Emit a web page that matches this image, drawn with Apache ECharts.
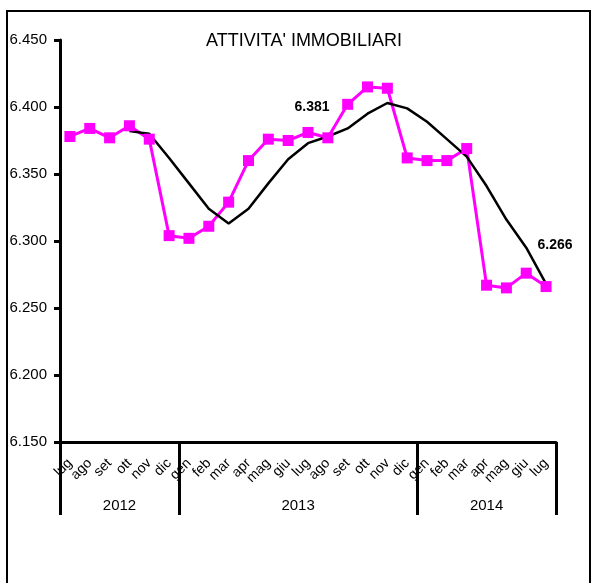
<!DOCTYPE html>
<html>
<head>
<meta charset="utf-8">
<script src="https://cdn.jsdelivr.net/npm/echarts@6/dist/echarts.min.js"></script>
<style>
html,body{margin:0;padding:0;background:#fff;}
#c{width:592px;height:583px;}
</style>
</head>
<body>
<div id="c"></div>
<script>
const months = ['lug','ago','set','ott','nov','dic','gen','feb','mar','apr','mag','giu','lug','ago','set','ott','nov','dic','gen','feb','mar','apr','mag','giu','lug'];
const values = [6.378,6.384,6.377,6.386,6.376,6.304,6.302,6.311,6.329,6.360,6.376,6.375,6.381,6.377,6.402,6.415,6.414,6.362,6.360,6.360,6.369,6.267,6.265,6.276,6.266];
const trend = [null,null,null,6.382,6.380,6.362,6.343,6.324,6.313,6.324,6.343,6.361,6.373,6.378,6.384,6.395,6.403,6.399,6.389,6.376,6.363,6.341,6.316,6.295,6.268];
const years = ['2012','2013','2014'];
const yearBounds = [0,6,18,25];
const yearCenters = [3,12,21.5];
const labelled = {12:[4,-25], 24:[9,-41]};
const yTicks = ['6.150','6.200','6.250','6.300','6.350','6.400','6.450'];

const FONT = '"Liberation Sans", Arial, sans-serif';
const chart = echarts.init(document.getElementById('c'), null, {renderer:'canvas'});

const magentaData = values.map((v,i)=> labelled[i] ? {
  value: v,
  label: {show:true, position:'inside', offset: labelled[i], formatter: p=>p.value.toFixed(3),
    color:'#000', fontWeight:'bold', fontSize:14, fontFamily:FONT}
} : v);

chart.setOption({
  animation:false,
  backgroundColor:'#fff',
  title:{text:"ATTIVITA' IMMOBILIARI", left:299, top:27, textAlign:'center',
    textStyle:{fontFamily:FONT, fontSize:18, fontWeight:'normal', color:'#000'}},
  graphic:[{type:'rect', shape:{x:7, y:11, width:583, height:620},
    style:{fill:null, stroke:'#000', lineWidth:2}, silent:true}],
  grid:{left:60, right:36, top:40, bottom:141, containLabel:false},
  xAxis:[{
    type:'category', data:months, boundaryGap:true,
    axisLine:{show:true, lineStyle:{color:'#000', width:3}},
    axisTick:{show:false},
    axisLabel:{interval:0, rotate:45, margin:19, color:'#000', fontSize:14, fontFamily:FONT}
  },{
    type:'value', min:0, max:25, position:'bottom',
    axisLine:{show:false},
    splitLine:{show:false},
    axisTick:{show:true, customValues:yearBounds, length:73, lineStyle:{color:'#000', width:3}},
    axisLabel:{show:true, customValues:yearCenters, margin:56, color:'#000', fontSize:15, fontFamily:FONT,
      formatter:v=> v<6 ? years[0] : (v<18 ? years[1] : years[2])}
  }],
  yAxis:{
    type:'value', min:6.15, max:6.45, interval:0.05,
    axisLine:{show:true, lineStyle:{color:'#000', width:3}},
    axisTick:{show:true, inside:false, length:6, lineStyle:{color:'#000', width:3}},
    splitLine:{show:false},
    axisLabel:{margin:13, color:'#000', fontSize:15, fontFamily:FONT,
      formatter:v=>{ const s=v.toFixed(3); return yTicks.includes(s)?s:''; }}
  },
  series:[{
    type:'line', data:magentaData, xAxisIndex:0,
    symbol:'rect', symbolSize:11, showAllSymbol:true,
    itemStyle:{color:'#FF00FF'}, lineStyle:{color:'#FF00FF', width:3}
  },{
    type:'line', data:trend, xAxisIndex:0,
    symbol:'none', connectNulls:false,
    lineStyle:{color:'#000', width:2.5}, z:3
  }]
});
</script>
</body>
</html>
